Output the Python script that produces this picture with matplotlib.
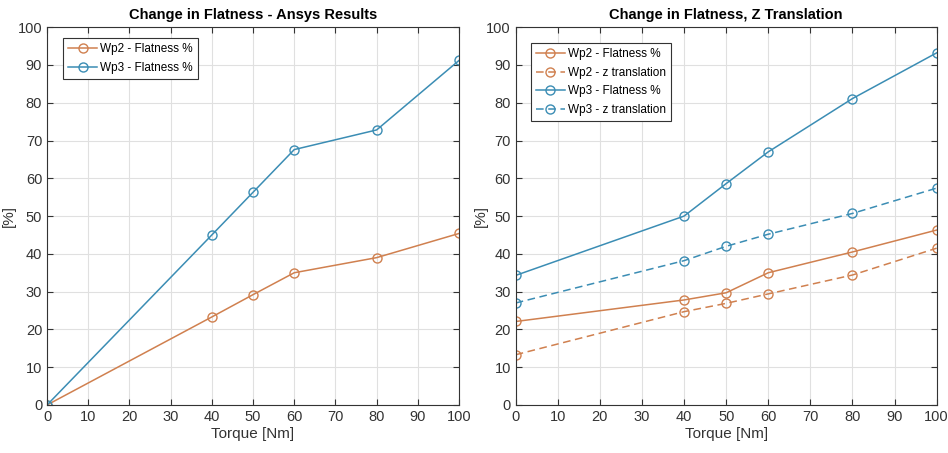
import matplotlib
matplotlib.use("Agg")
import matplotlib.pyplot as plt

plt.rcParams['font.family'] = ['Liberation Sans', 'DejaVu Sans']

torque = [0, 40, 50, 60, 80, 100]

# left chart - Ansys results
wp2_flat_ansys = [0, 23.3, 29.2, 35.0, 39.0, 45.4]
wp3_flat_ansys = [0, 45.0, 56.3, 67.6, 72.8, 91.2]

# right chart - flatness and z translation
wp2_flat = [22.1, 27.8, 29.7, 35.0, 40.5, 46.3]
wp2_z = [13.3, 24.7, 26.9, 29.4, 34.4, 41.5]
wp3_flat = [34.3, 50.0, 58.6, 67.0, 81.1, 93.2]
wp3_z = [27.0, 38.2, 42.0, 45.2, 50.7, 57.4]

orange = '#d0804f'
blue = '#3b8db4'

fig = plt.figure(figsize=(9.48, 4.53), dpi=100)
ax1 = fig.add_axes([0.0496, 0.106, 0.4346, 0.834])
ax2 = fig.add_axes([0.544, 0.106, 0.444, 0.834])

mk = dict(marker='o', markerfacecolor='none', markersize=6.5, linewidth=1.1, markeredgewidth=1.0)

ax1.plot(torque, wp2_flat_ansys, color=orange, label='Wp2 - Flatness %', **mk)
ax1.plot(torque, wp3_flat_ansys, color=blue, label='Wp3 - Flatness %', **mk)
ax1.set_title('Change in Flatness - Ansys Results', fontsize=10.5, fontweight='bold', pad=6)

ax2.plot(torque, wp2_flat, color=orange, label='Wp2 - Flatness %', **mk)
ax2.plot(torque, wp2_z, color=orange, linestyle=(0, (5, 3)), label='Wp2 - z translation', **mk)
ax2.plot(torque, wp3_flat, color=blue, label='Wp3 - Flatness %', **mk)
ax2.plot(torque, wp3_z, color=blue, linestyle=(0, (5, 3)), label='Wp3 - z translation', **mk)
ax2.set_title('Change in Flatness, Z Translation', fontsize=10.5, fontweight='bold', pad=6)

legend_pos = {ax1: (0.039, 0.971), ax2: (0.036, 0.958)}
ylabel_x = {ax1: -0.075, ax2: -0.066}

for ax in (ax1, ax2):
    ax.set_xlim(0, 100)
    ax.set_ylim(0, 100)
    ax.set_xticks(range(0, 101, 10))
    ax.set_yticks(range(0, 101, 10))
    ax.grid(True, color='#e0e0e0', linewidth=0.8)
    ax.set_axisbelow(True)
    ax.tick_params(direction='in', length=4, labelsize=10.5, colors='#333333', top=True, right=True)
    ax.set_xlabel('Torque [Nm]', fontsize=11, color='#333333', labelpad=2)
    ax.set_ylabel('[%]', fontsize=11, color='#333333')
    ax.yaxis.set_label_coords(ylabel_x[ax], 0.5)
    for s in ax.spines.values():
        s.set_color('#333333')
        s.set_linewidth(0.8)
    leg = ax.legend(loc='upper left', bbox_to_anchor=legend_pos[ax], fontsize=8.5, fancybox=False,
                    framealpha=1, edgecolor='#333333', handlelength=2.4, borderpad=0.45,
                    labelspacing=0.55, handletextpad=0.3, borderaxespad=0)
    leg.get_frame().set_linewidth(0.8)

fig.savefig('out.png', dpi=100)
